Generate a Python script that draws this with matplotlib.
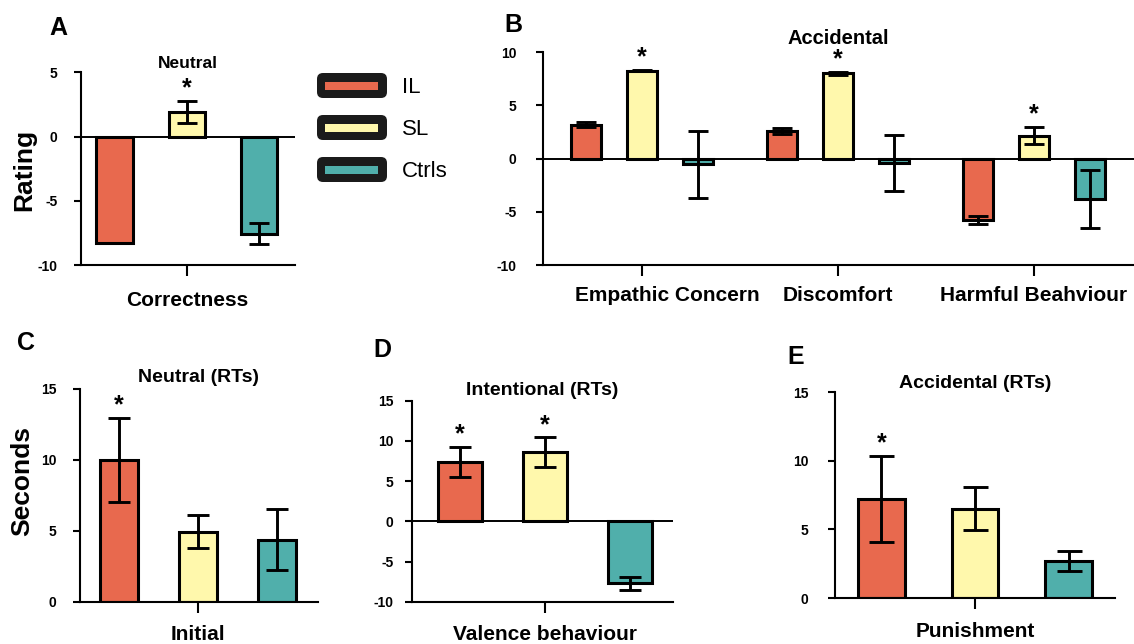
import numpy as np
import matplotlib
matplotlib.use('Agg')
import matplotlib.pyplot as plt
import matplotlib.transforms as mtransforms
from matplotlib.patches import FancyBboxPatch, Rectangle

plt.rcParams['font.family'] = ['Liberation Sans', 'DejaVu Sans']
plt.rcParams['font.weight'] = 'bold'
plt.rcParams['axes.unicode_minus'] = False

groups = ['IL', 'SL', 'Ctrls']
colors = ['#E8694E', '#FFF8AC', '#50AFAB']

# A - Neutral rating
a_cats = ['Correctness']
a_vals = [[-8.3], [1.9], [-7.55]]
a_errs = [[0.0], [0.87], [0.85]]
a_stars = [[0], [1], [0]]

# B - Accidental rating
b_cats = ['Empathic Concern', 'Discomfort', 'Harmful Beahviour']
b_vals = [[3.2, 2.6, -5.75], [8.28, 8.03, 2.15], [-0.55, -0.4, -3.82]]
b_errs = [[0.25, 0.3, 0.35], [0.08, 0.15, 0.8], [3.15, 2.65, 2.72]]
b_stars = [[0, 0, 0], [1, 1, 1], [0, 0, 0]]

# C - Neutral RTs
c_cats = ['Initial']
c_vals = [[10.0], [4.94], [4.38]]
c_errs = [[2.95], [1.15], [2.15]]
c_stars = [[1], [0], [0]]

# D - Intentional RTs
d_cats = ['Valence behaviour']
d_vals = [[7.38], [8.59], [-7.7]]
d_errs = [[1.85], [1.85], [0.83]]
d_stars = [[1], [1], [0]]

# E - Accidental RTs
e_cats = ['Punishment']
e_vals = [[7.2], [6.5], [2.7]]
e_errs = [[3.15], [1.57], [0.75]]
e_stars = [[1], [0], [0]]

W, H = 1134, 644
fig = plt.figure(figsize=(W / 100, H / 100), dpi=100)


def px_rect(l, r, top, bottom):
    return [l / W, 1 - bottom / H, (r - l) / W, (bottom - top) / H]


def panel(rect, cats, vals, errs, stars, step, width, xlim, ylim, yticks,
          title, title_pad, cap, ypad, xpad, zero_line=True, tick_fs=10, xlab_fs=15, title_fs=14):
    ax = fig.add_axes(rect)
    x = np.arange(len(cats))
    for g in range(3):
        xs = x + (g - 1) * step
        v = np.array(vals[g])
        e = np.array(errs[g])
        ax.bar(xs, v, width, color=colors[g], edgecolor='black', linewidth=2.2, zorder=2)
        m = e > 0
        ax.errorbar(xs[m], v[m], yerr=e[m], fmt='none', ecolor='black',
                    elinewidth=2.1, capsize=cap, capthick=2.1, zorder=3)
        for xi, vi, ei, s in zip(xs, v, e, stars[g]):
            if s:
                ax.annotate('*', (xi, vi + ei), xytext=(0, 9), textcoords='offset points',
                            ha='center', va='center', fontsize=18)
    if zero_line:
        ax.axhline(0, color='black', lw=1.4, zorder=1)
    ax.set_xlim(*xlim)
    ax.set_ylim(*ylim)
    ax.set_yticks(yticks)
    ax.set_xticks(x)
    ax.set_xticklabels(cats, fontsize=xlab_fs, fontweight='bold')
    for s in ['top', 'right']:
        ax.spines[s].set_visible(False)
    ax.spines['left'].set_linewidth(1.5)
    ax.spines['bottom'].set_linewidth(1.5)
    ax.tick_params(axis='y', length=5, width=1.5, pad=ypad, labelsize=tick_fs)
    ax.tick_params(axis='x', length=8, width=1.5, pad=xpad)
    ax.set_title(title, fontsize=title_fs, fontweight='bold', pad=title_pad)
    return ax


panel(px_rect(81, 295, 72.3, 265), a_cats, a_vals, a_errs, a_stars,
      1, 0.51, (-1.47, 1.5), (-10, 5), [-10, -5, 0, 5], 'Neutral', 3, 7, 12, 11, title_fs=12.5)
axb = panel(px_rect(543, 1134, 52.3, 265), b_cats, b_vals, b_errs, b_stars,
            0.286, 0.15, (-0.505, 2.51), (-10, 10), [-10, -5, 0, 5, 10], 'Accidental', 6, 7, 14, 7,
            title_fs=14.5)
# first label sits a bit right of its tick in the original
lab0 = axb.get_xticklabels()[0]
lab0.set_transform(lab0.get_transform() + mtransforms.ScaledTranslation(0.25, 0, fig.dpi_scale_trans))

panel(px_rect(80, 318, 389, 601.7), c_cats, c_vals, c_errs, c_stars,
      1, 0.49, (-1.494, 1.519), (0, 15), [0, 5, 10, 15], 'Neutral (RTs)', 5, 8, 12, 9,
      zero_line=False)
panel(px_rect(411.7, 673, 400.7, 601.7), d_cats, d_vals, d_errs, d_stars,
      1, 0.51, (-1.568, 1.506), (-10, 15), [-10, -5, 0, 5, 10, 15], 'Intentional (RTs)', 4, 8, 8, 9)
panel(px_rect(835, 1115, 392, 598), e_cats, e_vals, e_errs, e_stars,
      1, 0.50, (-1.497, 1.497), (0, 15), [0, 5, 10, 15], 'Accidental (RTs)', 3, 9, 14, 9,
      zero_line=False)

# overlay in pixel coordinates for letters, y labels and legend
ov = fig.add_axes([0, 0, 1, 1])
ov.set_xlim(0, W)
ov.set_ylim(H, 0)
ov.axis('off')
ov.patch.set_alpha(0)

for letter, lx, ly in [('A', 58, 28), ('B', 513, 25), ('C', 26, 343), ('D', 382, 350), ('E', 796, 357)]:
    ov.text(lx, ly, letter, fontsize=18, fontweight='bold', ha='center', va='center')

ov.text(24, 170, 'Rating', fontsize=19, fontweight='bold', rotation=90, ha='center', va='center')
ov.text(22, 481, 'Seconds', fontsize=19, fontweight='bold', rotation=90, ha='center', va='center')

for i, (name, col) in enumerate(zip(groups, colors)):
    y0 = 73 + i * 42
    ov.add_patch(FancyBboxPatch((317, y0), 70, 25, boxstyle='round,pad=0,rounding_size=6',
                                fc='#1b1b1b', ec='none'))
    ov.add_patch(Rectangle((325, y0 + 9), 53, 7.5, fc=col, ec='none'))
    ov.text(402, y0 + 14, name, fontsize=16, fontweight='normal', ha='left', va='center')

fig.savefig('out.png', dpi=100)
